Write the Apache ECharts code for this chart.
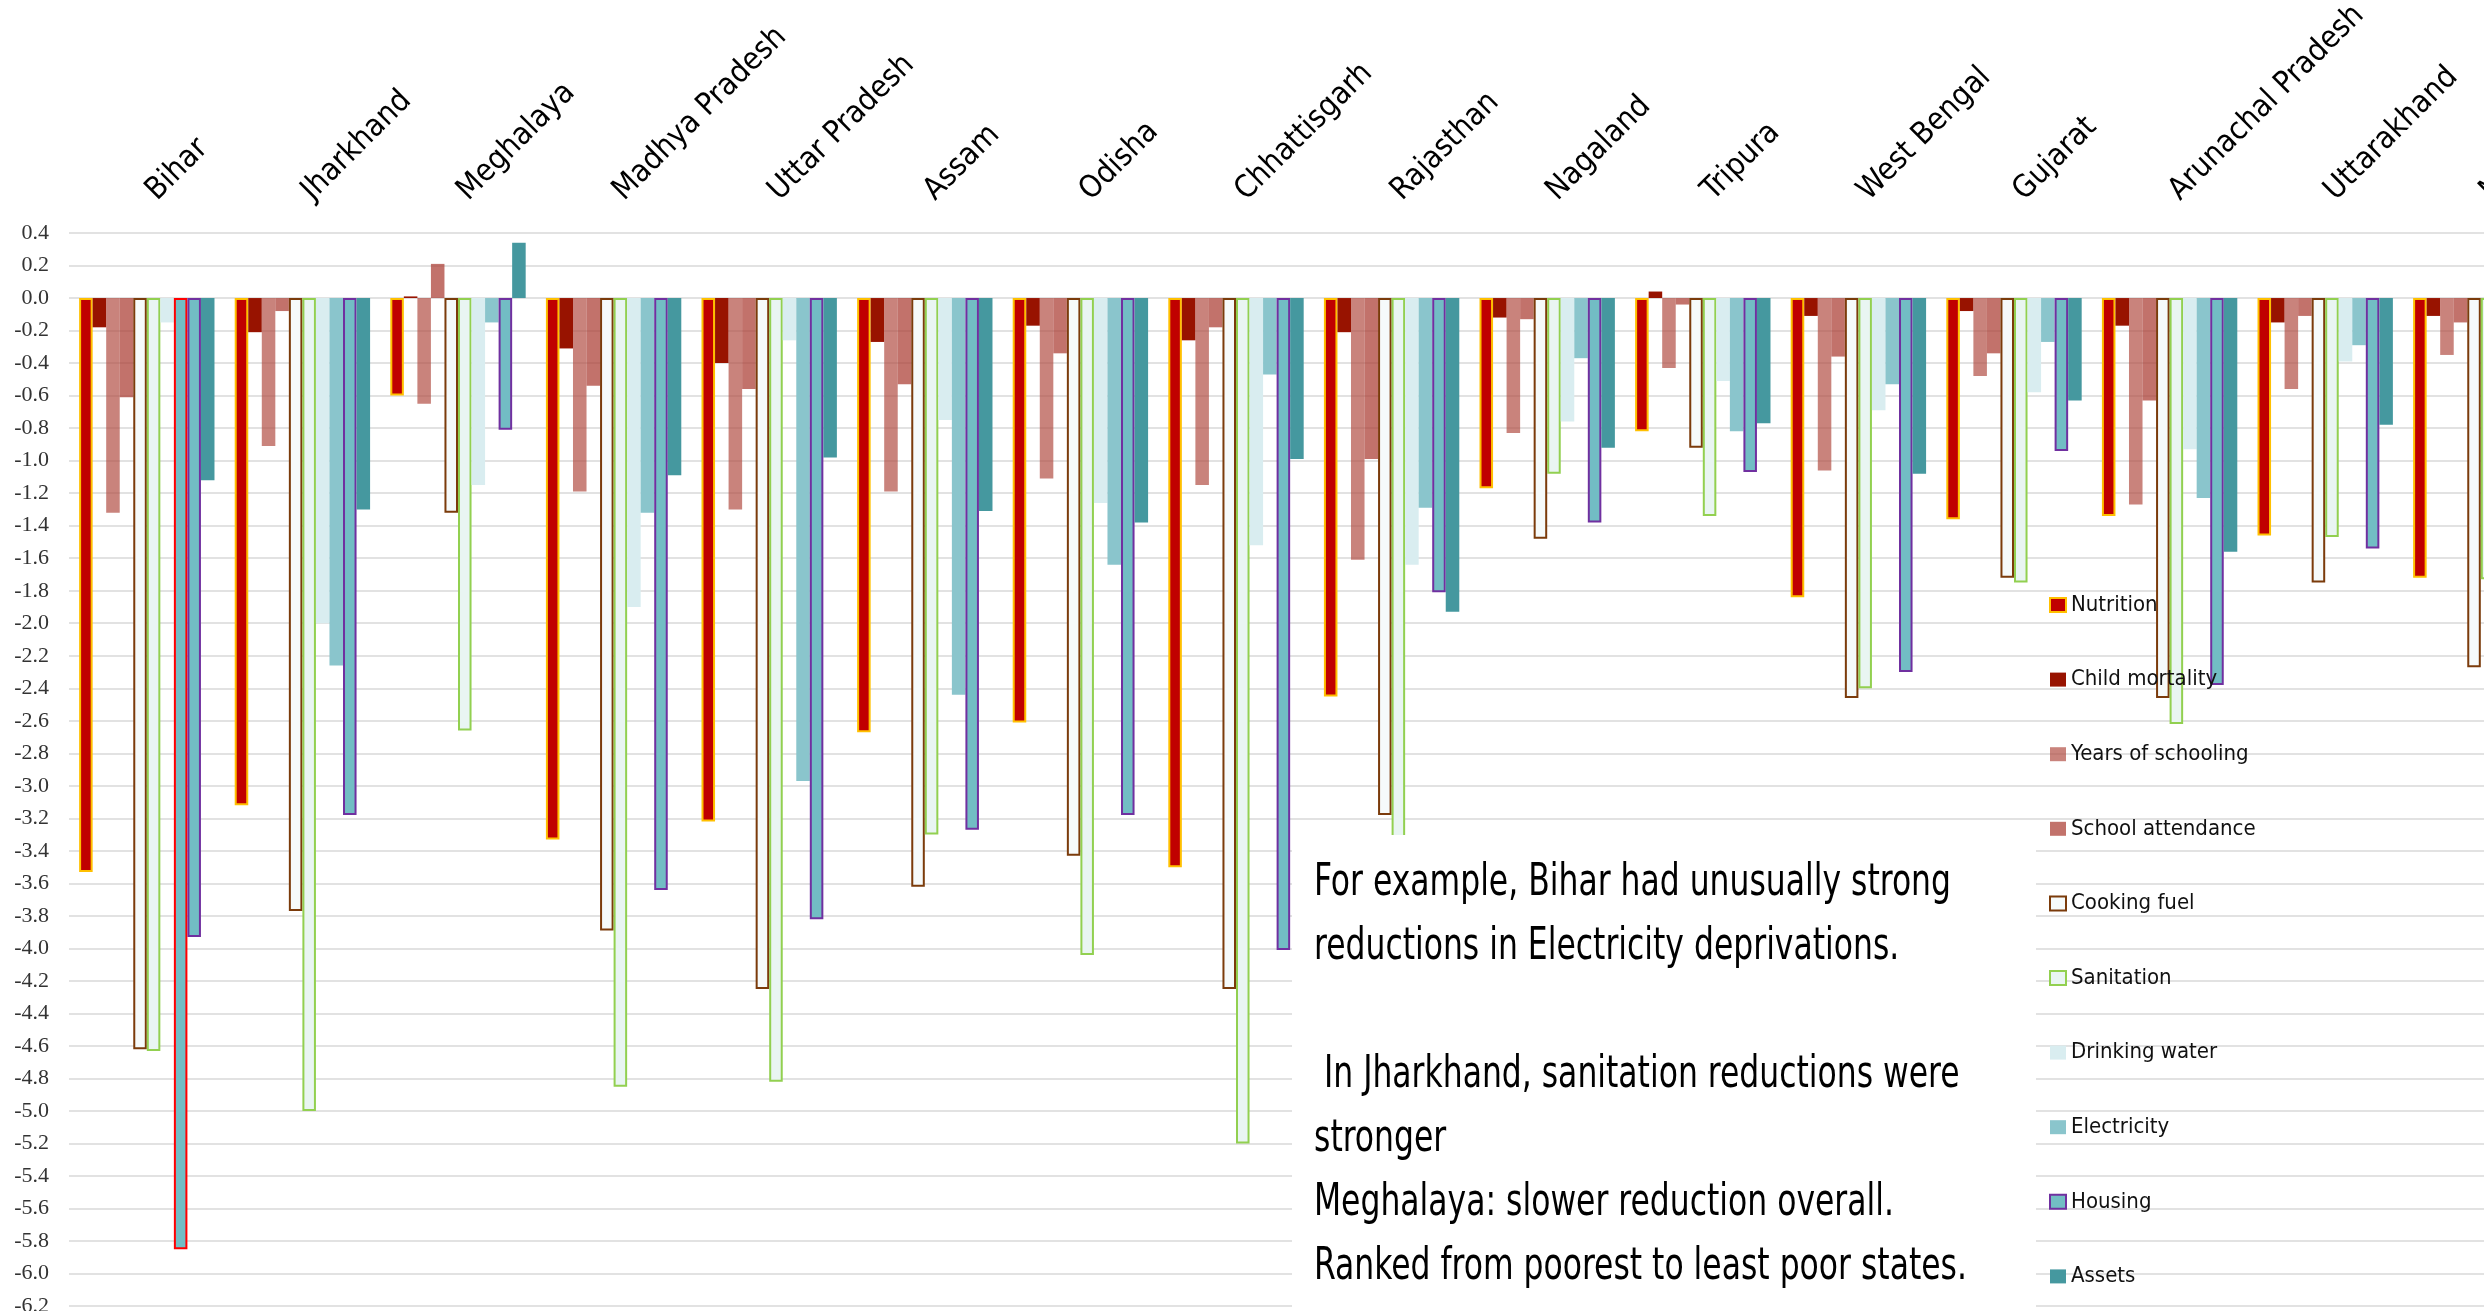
<!DOCTYPE html>
<html>
<head>
<meta charset="utf-8">
<script src="https://cdn.jsdelivr.net/npm/echarts@6/dist/echarts.min.js"></script>
<style>
  html, body { margin: 0; padding: 0; background: #fff; overflow: hidden; }
  #chart { width: 2484px; height: 1311px; }
</style>
</head>
<body>
<div id="chart"></div>
<script>
// States ranked from poorest to least poor
const states = ['Bihar', 'Jharkhand', 'Meghalaya', 'Madhya Pradesh', 'Uttar Pradesh', 'Assam',
  'Odisha', 'Chhattisgarh', 'Rajasthan', 'Nagaland', 'Tripura', 'West Bengal', 'Gujarat',
  'Arunachal Pradesh', 'Uttarakhand', 'Manipur'];

const indicatorNames = ['Nutrition', 'Child mortality', 'Years of schooling', 'School attendance',
  'Cooking fuel', 'Sanitation', 'Drinking water', 'Electricity', 'Housing', 'Assets'];

// Annualised change in deprivation, per indicator and state
const nutrition        = [-3.53, -3.12, -0.60, -3.33, -3.22, -2.67, -2.61, -3.50, -2.45, -1.17, -0.82, -1.84, -1.36, -1.34, -1.46, -1.72];
const childMortality   = [-0.18, -0.21,  0.01, -0.31, -0.40, -0.27, -0.17, -0.26, -0.21, -0.12,  0.04, -0.11, -0.08, -0.17, -0.15, -0.11];
const yearsSchooling   = [-1.32, -0.91, -0.65, -1.19, -1.30, -1.19, -1.11, -1.15, -1.61, -0.83, -0.43, -1.06, -0.48, -1.27, -0.56, -0.35];
const schoolAttendance = [-0.61, -0.08,  0.21, -0.54, -0.56, -0.53, -0.34, -0.18, -0.99, -0.13, -0.04, -0.36, -0.34, -0.63, -0.11, -0.15];
const cookingFuel      = [-4.62, -3.77, -1.32, -3.89, -4.25, -3.62, -3.43, -4.25, -3.18, -1.48, -0.92, -2.46, -1.72, -2.46, -1.75, -2.27];
const sanitation       = [-4.63, -5.00, -2.66, -4.85, -4.82, -3.30, -4.04, -5.20, -3.32, -1.08, -1.34, -2.40, -1.75, -2.62, -1.47, -1.73];
const drinkingWater    = [-0.15, -2.00, -1.15, -1.90, -0.26, -0.75, -1.26, -1.52, -1.64, -0.76, -0.51, -0.69, -0.58, -0.93, -0.39, null];
const electricity      = [-5.85, -2.26, -0.15, -1.32, -2.97, -2.44, -1.64, -0.47, -1.29, -0.37, -0.82, -0.53, -0.27, -1.23, -0.29, null];
const housing          = [-3.93, -3.18, -0.81, -3.64, -3.82, -3.27, -3.18, -4.01, -1.81, -1.38, -1.07, -2.30, -0.94, -2.38, -1.54, null];
const assets           = [-1.12, -1.30,  0.34, -1.09, -0.98, -1.31, -1.38, -0.99, -1.93, -0.92, -0.77, -1.08, -0.63, -1.56, -0.78, null];

// Value axis ticks
const yMin = -6.2;
const yMax = 0.4;
const yStep = 0.2;

// Bar outlined in red to call out a notable change
const highlight = { state: 'Bihar', indicator: 'Electricity' };

const noteLines = [
  'For example, Bihar had unusually strong',
  'reductions in Electricity deprivations.',
  '',
  ' In Jharkhand, sanitation reductions were',
  'stronger',
  'Meghalaya: slower reduction overall.',
  'Ranked from poorest to least poor states.'
];

const values = [nutrition, childMortality, yearsSchooling, schoolAttendance, cookingFuel,
  sanitation, drinkingWater, electricity, housing, assets];

const barStyles = [
  { color: '#C00000', borderColor: '#FFC000', borderWidth: 2 },
  { color: '#981300' },
  { color: 'rgba(176,72,62,0.68)' },
  { color: 'rgba(170,60,50,0.72)' },
  { color: '#F6FAFA', borderColor: '#7B3B0B', borderWidth: 2 },
  { color: '#E9F5F2', borderColor: '#92D050', borderWidth: 2 },
  { color: '#D9EDF0' },
  { color: '#8AC5CC' },
  { color: '#72BDC4', borderColor: '#7030A0', borderWidth: 2 },
  { color: '#45989F' }
];

const narrowFont = "'DejaVu Sans Condensed', 'Liberation Sans Narrow', sans-serif";

// Layout
const gridLeft = 69, gridTop = 233;
const catWidth = 155.6;
const pxPerUnit = 162.6;

const series = indicatorNames.map((name, k) => ({
  name: name,
  type: 'bar',
  barGap: '0%',
  barCategoryGap: '13%',
  itemStyle: barStyles[k],
  emphasis: { disabled: true },
  data: values[k].map((v, i) => {
    if (name === highlight.indicator && states[i] === highlight.state) {
      return { value: v, itemStyle: { color: '#72BDC4', borderColor: '#FF0000', borderWidth: 2 } };
    }
    return v;
  })
}));

// Condense the note text to the width of its box
const noteFontSize = 44;
const noteFont = noteFontSize + "px " + narrowFont;
const mctx = document.createElement('canvas').getContext('2d');
mctx.font = noteFont;
const noteScale = 637 / mctx.measureText(noteLines[0]).width;

const noteX = 1314, noteTop = 862, noteStep = 64;
const graphics = [
  { type: 'rect', x: 1292, y: 835, shape: { width: 744, height: 480 },
    style: { fill: '#ffffff' }, z: 10, silent: true }
].concat(noteLines.map((t, i) => ({
  type: 'text',
  x: noteX,
  y: noteTop + i * noteStep,
  scaleX: noteScale,
  z: 11,
  silent: true,
  style: { text: t, font: noteFont, fill: '#000', verticalAlign: 'top', align: 'left' }
})));

const legendFont = 22;

const chart = echarts.init(document.getElementById('chart'), null, { renderer: 'canvas' });
chart.setOption({
  animation: false,
  backgroundColor: '#fff',
  grid: {
    left: gridLeft,
    top: gridTop,
    width: catWidth * states.length,
    height: pxPerUnit * (yMax - yMin),
    containLabel: false,
    outerBoundsMode: 'none'
  },
  legend: {
    orient: 'vertical',
    left: 2044,
    top: 600 - legendFont / 2,
    itemWidth: 16,
    itemHeight: 14,
    itemGap: 74.6 - legendFont,
    icon: 'rect',
    data: indicatorNames,
    textStyle: { fontFamily: narrowFont, fontSize: legendFont, color: '#111' },
    selectedMode: false
  },
  xAxis: {
    type: 'category',
    position: 'top',
    data: states,
    axisLine: { show: false },
    axisTick: { show: false },
    splitLine: { show: false },
    axisLabel: {
      interval: 0,
      rotate: 45,
      margin: 11,
      padding: [0, 0, 0, 22],
      align: 'left',
      verticalAlign: 'bottom',
      fontFamily: narrowFont,
      fontSize: 31,
      color: '#000'
    }
  },
  yAxis: {
    type: 'value',
    min: yMin,
    max: yMax,
    interval: yStep,
    axisLine: { show: false },
    axisTick: { show: false },
    splitLine: { lineStyle: { color: '#D9D9D9', width: 1.5 } },
    axisLabel: {
      margin: 20,
      fontFamily: "'Liberation Serif', 'DejaVu Serif', serif",
      fontSize: 22,
      color: '#333',
      formatter: v => v.toFixed(1)
    }
  },
  graphic: graphics,
  series: series
});
</script>
</body>
</html>
